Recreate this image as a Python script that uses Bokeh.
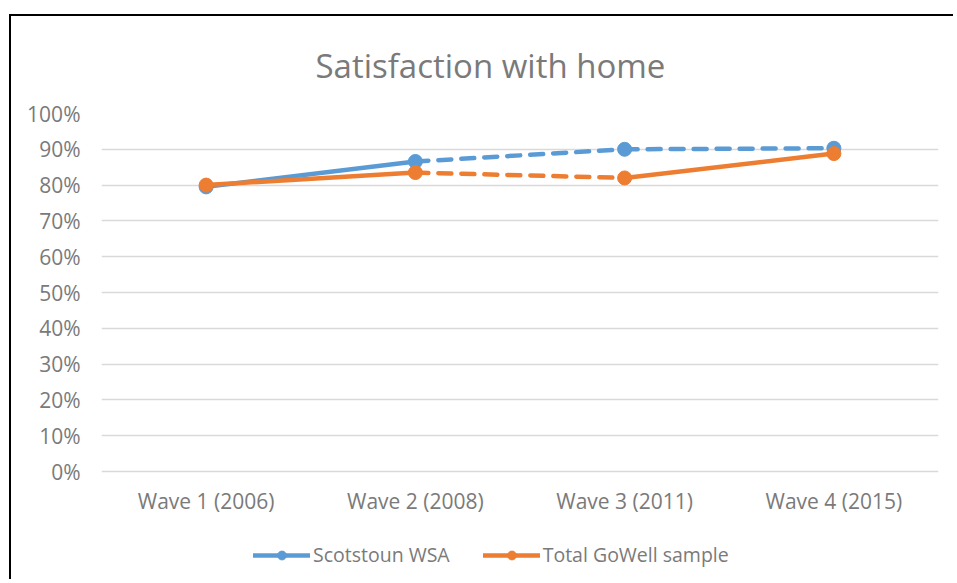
from bokeh.plotting import figure
from bokeh.models import Range1d, NumeralTickFormatter, Legend, LegendItem, FixedTicker
from bokeh.embed import file_html
from bokeh.resources import INLINE

# ---- data ----
waves = ["Wave 1 (2006)", "Wave 2 (2008)", "Wave 3 (2011)", "Wave 4 (2015)"]
scotstoun = [0.795, 0.866, 0.900, 0.903]
gowell = [0.800, 0.835, 0.820, 0.888]
series_names = ["Scotstoun WSA", "Total GoWell sample"]
y_ticks = [0, 0.1, 0.2, 0.3, 0.4, 0.5, 0.6, 0.7, 0.8, 0.9, 1.0]

# ---- styles ----
colors = ["#5B9BD5", "#ED7D31"]
segment_styles = [["solid", "dashed", "dashed"], ["solid", "dashed", "solid"]]
FONT = "Open Sans"
TXT = "#7a7a7a"

# the frame extends below 0% so that the legend can sit inside it (un-clipped)
p = figure(frame_width=837, frame_height=462, x_range=waves,
           y_range=Range1d(-0.2905, 1.0),
           output_backend="svg", toolbar_location=None,
           min_border_left=90, min_border_right=15, min_border_top=97,
           min_border_bottom=4)
# chart border: only the left and top edges are visible in the reference
p.margin = (14, 0, 0, 9)
p.styles = {"border-left": "2px solid #000000", "border-top": "2px solid #000000"}

p.title.text = "Satisfaction with home"
p.title.align = "left"
p.title.vertical_align = "top"
p.title.text_font = FONT
p.title.text_font_size = "33px"
p.title.text_font_style = "normal"
p.title.text_color = TXT
p.title.offset = 214
p.title.standoff = 48

p.outline_line_color = None
p.background_fill_color = "white"
p.border_fill_color = "white"
p.xgrid.grid_line_color = None
p.ygrid.grid_line_color = "#d9d9d9"
p.ygrid.grid_line_width = 1.5
p.yaxis.ticker = FixedTicker(ticks=y_ticks)
p.yaxis.formatter = NumeralTickFormatter(format="0%")

for ax in (p.xaxis[0], p.yaxis[0]):
    ax.axis_line_color = None
    ax.major_tick_line_color = None
    ax.minor_tick_line_color = None
    ax.major_label_text_font = FONT
    ax.major_label_text_font_size = "21px"
    ax.major_label_text_color = TXT
p.yaxis.major_label_standoff = 15
# category labels sit just under the 0% line (inside the extended frame)
p.xaxis.major_label_standoff = -95

items = []
for vals, color, styles, name in zip([scotstoun, gowell], colors, segment_styles, series_names):
    first_line = None
    for i, st in enumerate(styles):
        r = p.line(waves[i:i + 2], vals[i:i + 2], line_color=color, line_width=4.5,
                   line_dash=("13 10" if st == "dashed" else "solid"), line_cap="round")
        if first_line is None and st == "solid":
            first_line = r
    s = p.scatter(waves, vals, size=14, fill_color=color, line_color=color)
    items.append(LegendItem(label=name, renderers=[first_line, s]))

legend = Legend(items=items, orientation="horizontal", location=(152, 7),
                label_text_font=FONT, label_text_font_size="19.5px", label_text_color=TXT,
                glyph_width=57, glyph_height=22, spacing=33, label_standoff=3,
                padding=0, margin=0,
                border_line_color=None, background_fill_alpha=0)
p.add_layout(legend, "center")

open("out.html", "w").write(file_html(p, INLINE))
